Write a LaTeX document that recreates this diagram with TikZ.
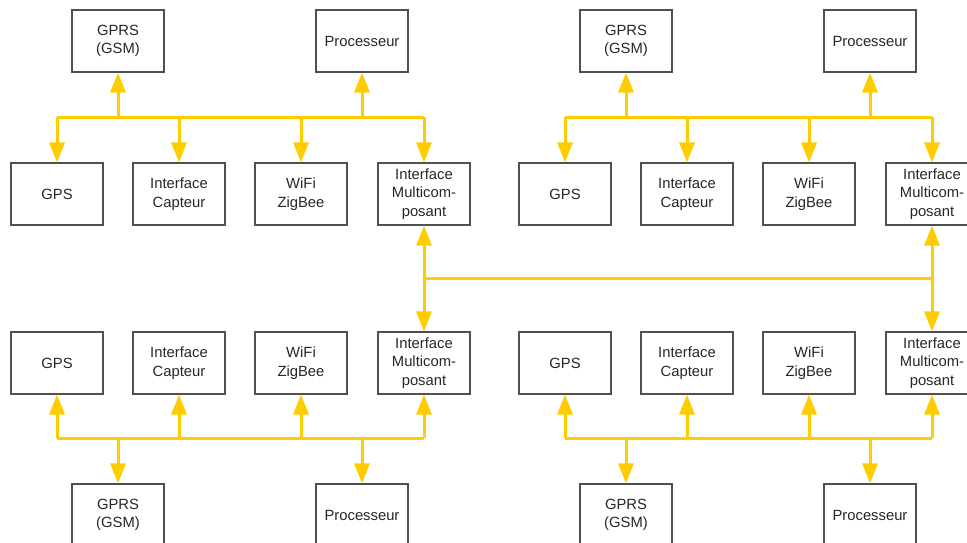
\documentclass[tikz,border=0pt]{standalone}
\usepackage{fontspec}
\setmainfont{Liberation Sans}
\usetikzlibrary{arrows.meta}
\definecolor{busyellow}{HTML}{FFCC00}
\definecolor{boxgray}{HTML}{505050}
\tikzset{
  unitbox/.style={draw=boxgray, line width=1.1pt, minimum width=92pt, minimum height=62pt,
    inner sep=0pt, align=center, text=black!85, font=\fontsize{14.8}{18.5}\selectfont},
  busline/.style={draw=busyellow, line width=3pt},
  conn/.style={busline, -{Triangle[width=15pt,length=20pt]}}
}
\newcommand\mycluster[5]{%
  % #1 prefix, #2 x offset, #3 row y, #4 bus y, #5 far boxes y
  \node[unitbox] (#1-gprs) at (#2+118,#5) {GPRS\\(GSM)};
  \node[unitbox] (#1-proc) at (#2+362,#5) {Processeur};
  \node[unitbox] (#1-gps)  at (#2+57,#3) {GPS};
  \node[unitbox] (#1-cap)  at (#2+179,#3) {Interface\\Capteur};
  \node[unitbox] (#1-wifi) at (#2+301,#3) {WiFi\\ZigBee};
  \node[unitbox] (#1-multi) at (#2+424,#3) {Interface\\Multicom-\\posant};
  \coordinate (#1-bus) at (#2,#4);
  \draw[busline] (#1-gps |- #1-bus) -- (#1-multi |- #1-bus);
  \foreach \n in {gprs,proc,gps,cap,wifi,multi}{
    \draw[conn] (#1-\n |- #1-bus) -- (#1-\n);
  }
}
\begin{document}
\begin{tikzpicture}[x=1pt,y=-1pt]
\useasboundingbox (0,0) rectangle (967,543);
\clip (0,0) rectangle (967,543);
\mycluster{tl}{0}{194}{117}{41}
\mycluster{tr}{508}{194}{117}{41}
\mycluster{bl}{0}{363}{438}{515}
\mycluster{br}{508}{363}{438}{515}
\coordinate (mid) at (0,278);
\draw[busline] (tl-multi |- mid) -- (tr-multi |- mid);
\draw[conn] (tl-multi |- mid) -- (tl-multi.south);
\draw[conn] (tl-multi |- mid) -- (bl-multi.north);
\draw[conn] (tr-multi |- mid) -- (tr-multi.south);
\draw[conn] (tr-multi |- mid) -- (br-multi.north);
\end{tikzpicture}
\end{document}
